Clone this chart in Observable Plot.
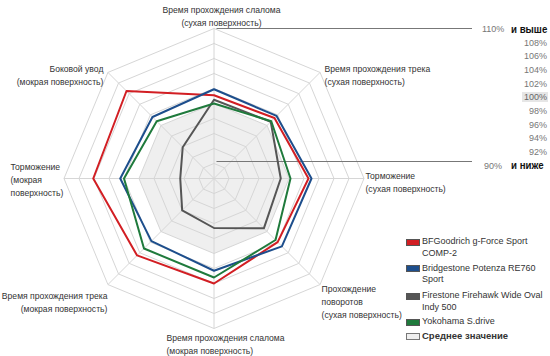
<!DOCTYPE html>
<html><head><meta charset="utf-8">
<script src="https://cdn.jsdelivr.net/npm/d3@7"></script>
<script src="https://cdn.jsdelivr.net/npm/@observablehq/plot@0.6"></script>
<style>
body{margin:0;background:#fff;font-family:"Liberation Sans",Arial,sans-serif;}
#wrap{position:relative;width:550px;height:356px;overflow:hidden;}
#wrap svg{position:absolute;left:0;top:0;}
.sc{position:absolute;font-size:9px;color:#777;line-height:10px;white-space:nowrap;}
.scb{position:absolute;font-size:11px;color:#111;font-weight:bold;line-height:12px;white-space:nowrap;transform:scaleX(0.88);transform-origin:left center;}
.lg{position:absolute;left:422px;font-size:9px;color:#333;line-height:11.5px;white-space:nowrap;}
.sw{position:absolute;left:406px;width:12px;height:5px;border:1px solid #444;}
</style></head><body>
<div id="wrap"></div>
<script>
// ---- data ----
const axes = [
  "Время прохождения слалома\n(сухая поверхность)",
  "Время прохождения трека\n(сухая поверхность)",
  "Торможение\n(сухая поверхность)",
  "Прохождение\nповоротов\n(сухая поверхность)",
  "Время прохождения слалома\n(мокрая поверхность)",
  "Время прохождения трека\n(мокрая поверхность)",
  "Торможение\n(мокрая\nповерхность)",
  "Боковой увод\n(мокрая поверхность)"
];
const seriesNames = ["BFGoodrich g-Force Sport COMP-2","Bridgestone Potenza RE760 Sport","Firestone Firehawk Wide Oval Indy 500","Yokohama S.drive"];
const bfgoodrich  = [101.1, 101.4, 102.6, 102.0, 104.0, 104.5, 106.1, 106.5];
const bridgestone = [101.9, 101.8, 103.0, 102.8, 102.3, 101.8, 102.5, 101.6];
const firestone   = [100.5, 100.7,  98.9,  99.4,  96.6,  96.0,  94.5,  95.9];
const yokohama    = [100.0, 100.8, 100.2, 101.6, 103.2, 103.2, 102.0, 100.8];
const average     = [100, 100, 100, 100, 100, 100, 100, 100];
const scaleTicks  = [110, 108, 106, 104, 102, 100, 98, 96, 94, 92, 90];
const seriesColors = ["#d21e23", "#1d4e8c", "#555555", "#1f7a3c"];

// ---- geometry helpers (data units: value - 90) ----
const MIN = 90, MAX = 110, N = axes.length;
const ang = i => i * 2 * Math.PI / N;
const pt = (v, i) => ({x: (v - MIN) * Math.sin(ang(i)), y: (v - MIN) * Math.cos(ang(i))});
const ring = (vals, name) => vals.concat([vals[0]]).map((v, i) => ({...pt(v, i % N), name}));

const seriesVals = [bfgoodrich, bridgestone, firestone, yokohama];
const seriesPts = seriesVals.flatMap((vals, k) => ring(vals, seriesNames[k]));
const avgPts = ring(average, "avg");
const gridRings = scaleTicks.filter(t => t > MIN).flatMap(t => ring(Array(N).fill(t), "r" + t));
const spokes = axes.map((a, i) => ({x1: 0, y1: 0, x2: pt(MAX, i).x, y2: pt(MAX, i).y}));

// label layout (pixel offsets from the outer vertex)
const labelLayout = [
  {anchor: "middle", dx: 7.5, dy: -13},
  {anchor: "start", dx: 4.5, dy: 1.5},
  {anchor: "start", dx: 1.5, dy: 3},
  {anchor: "start", dx: 1.5, dy: 16.5},
  {anchor: "start", dx: -47.5, dy: 15},
  {anchor: "end", dx: -0.5, dy: 16.5},
  {anchor: "start", dx: -53.5, dy: 0},
  {anchor: "end", dx: -4.5, dy: 1.5}
];
const labelMarks = axes.map((a, i) => Plot.text([{...pt(MAX, i), text: a}], {
  x: "x", y: "y", text: "text", textAnchor: labelLayout[i].anchor, lineAnchor: "middle",
  dx: labelLayout[i].dx, dy: labelLayout[i].dy, fill: "#333", lineHeight: 1.52, fontSize: 8.6
}));

const W = 550, H = 356, cx = 213.5, cy = 178, unit = 7.5;
const plot = Plot.plot({
  width: W, height: H, margin: 0,
  style: {fontFamily: "'Liberation Sans', Arial, sans-serif", fontSize: "9px", background: "transparent"},
  x: {domain: [-cx / unit, (W - cx) / unit], axis: null},
  y: {domain: [-(H - cy) / unit, cy / unit], axis: null},
  color: {domain: seriesNames, range: seriesColors},
  marks: [
    Plot.line(avgPts, {x: "x", y: "y", fill: "#efefef", stroke: "none"}),
    Plot.link(spokes, {x1: "x1", y1: "y1", x2: "x2", y2: "y2", stroke: "#d6d6d6", strokeWidth: 1}),
    Plot.line(gridRings, {x: "x", y: "y", z: "name", stroke: "#d6d6d6", strokeWidth: 1}),
    Plot.ruleY([MAX - MIN], {x1: 0.4, x2: (472 - cx) / unit, stroke: "#777", strokeWidth: 1.2}),
    Plot.ruleY([(cy - 161) / unit], {x1: 0.4, x2: (472 - cx) / unit, stroke: "#777", strokeWidth: 1.2}),
    Plot.line(seriesPts, {x: "x", y: "y", z: "name", stroke: "name", strokeWidth: 2}),
    ...labelMarks
  ]
});
const wrap = document.getElementById("wrap");
wrap.appendChild(plot);

// scale column
const scaleY0 = 29, scaleStep = 13.67;
scaleTicks.forEach((t, i) => {
  const yc = scaleY0 + i * scaleStep;
  const el = document.createElement("div");
  el.className = "sc";
  el.style.top = (yc - 5) + "px";
  el.textContent = t + "%";
  if (i === 0 || i === scaleTicks.length - 1) {
    el.style.left = (i === 0 ? 482 : 484) + "px";
    const b = document.createElement("div");
    b.className = "scb";
    b.style.left = "511px";
    b.style.top = (yc - 6.5) + "px";
    b.textContent = i === 0 ? "и выше" : "и ниже";
    wrap.appendChild(b);
  } else {
    el.style.right = "3px";
    if (t === 100) { el.style.background = "#e6e6e6"; el.style.padding = "0 1px 0 2px"; el.style.color = "#666"; el.style.right = "2px"; }
  }
  wrap.appendChild(el);
});

// series legend
const legendTop = [238.5, 265, 292.5, 318.5];
const legendLines = [["BFGoodrich g-Force Sport", "COMP-2"], ["Bridgestone Potenza RE760", "Sport"], ["Firestone Firehawk Wide Oval", "Indy 500"], ["Yokohama S.drive"]];
seriesNames.forEach((n, k) => {
  const sw = document.createElement("div");
  sw.className = "sw";
  sw.style.top = legendTop[k] + "px";
  sw.style.background = seriesColors[k];
  sw.style.borderColor = "#555";
  wrap.appendChild(sw);
  const tx = document.createElement("div");
  tx.className = "lg";
  tx.style.top = (legendTop[k] - 2.5) + "px";
  tx.innerHTML = legendLines[k].join("<br>");
  wrap.appendChild(tx);
});
const swa = document.createElement("div");
swa.className = "sw"; swa.style.top = "332.5px"; swa.style.background = "#efefef"; swa.style.borderColor = "#777";
wrap.appendChild(swa);
const txa = document.createElement("div");
txa.className = "lg"; txa.style.top = "330px"; txa.style.fontWeight = "bold"; txa.style.fontSize = "9.5px";
txa.textContent = "Среднее значение";
wrap.appendChild(txa);
</script>
</body></html>
